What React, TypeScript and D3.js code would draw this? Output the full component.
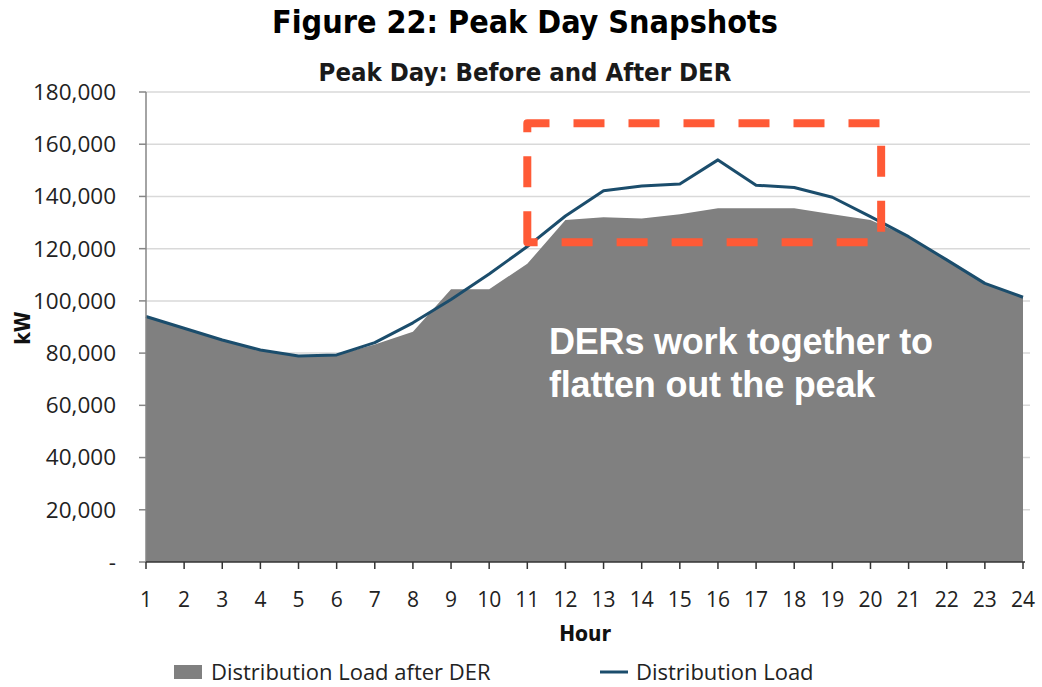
import React from "react";
import * as d3 from "d3";

const hours = [1, 2, 3, 4, 5, 6, 7, 8, 9, 10, 11, 12, 13, 14, 15, 16, 17, 18, 19, 20, 21, 22, 23, 24];
const distributionLoad = [94000, 89500, 85000, 81200, 78900, 79300, 84000, 91600, 100500, 110300, 120800, 132500, 142200, 144000, 144800, 154000, 144300, 143400, 139700, 132300, 124600, 115700, 106700, 101400];
const loadAfterDER = [94000, 89500, 85000, 81200, 78900, 79300, 83300, 88200, 104500, 104500, 114200, 131000, 132000, 131600, 133200, 135500, 135500, 135500, 133200, 131000, 124600, 115700, 106700, 101400];
const yTicks = [0, 20000, 40000, 60000, 80000, 100000, 120000, 140000, 160000, 180000];
const yTickLabels = ["-", "20,000", "40,000", "60,000", "80,000", "100,000", "120,000", "140,000", "160,000", "180,000"];
const highlightBox = { hourFrom: 11, hourTo: 20.28, kwLow: 122500, kwHigh: 168000 };
const annotationLines = ["DERs work together to", "flatten out the peak"];
const legendLabels = ["Distribution Load after DER", "Distribution Load"];

const W = 1042;
const H = 687;
const left = 146;
const right = 1023;
const top = 92;
const bottom = 562;

export default function App() {
  const x = d3.scaleLinear().domain([1, 24]).range([left, right]);
  const y = d3.scaleLinear().domain([0, 180000]).range([bottom, top]);

  const area = d3
    .area<number>()
    .x((_, i) => x(hours[i]))
    .y0(y(0))
    .y1((d) => y(d))(loadAfterDER) as string;
  const line = d3
    .line<number>()
    .x((_, i) => x(hours[i]))
    .y((d) => y(d))(distributionLoad) as string;

  const bx0 = x(highlightBox.hourFrom);
  const bx1 = x(highlightBox.hourTo);
  const by0 = y(highlightBox.kwHigh);
  const by1 = y(highlightBox.kwLow);
  const boxPath = `M${bx0},${by1}V${by0}H${bx1}V${by1}Z`;

  const tickFont = "'Open Sans', 'DejaVu Sans', sans-serif";
  const tahoma = "'DejaVu Sans Condensed', 'DejaVu Sans', sans-serif";

  return (
    <svg width={W} height={H} style={{ position: "absolute", left: 0, top: 0, background: "#fff" }}>
      <rect width={W} height={H} fill="#fff" />
      <text x={525} y={33} textAnchor="middle" fontFamily={tahoma} fontWeight="bold" fontSize={32} fill="#000">
        Figure 22: Peak Day Snapshots
      </text>
      <text x={525} y={81} textAnchor="middle" fontFamily={tahoma} fontWeight="bold" fontSize={25.5} fill="#1a1a1a">
        Peak Day: Before and After DER
      </text>

      {yTicks.slice(1).map((t) => (
        <line key={"g" + t} x1={left} x2={1030} y1={y(t)} y2={y(t)} stroke="#d9d9d9" strokeWidth={1.5} />
      ))}

      <path d={area} fill="#808080" />
      <path d={line} fill="none" stroke="#1b4d6c" strokeWidth={3} strokeLinejoin="round" />

      <line x1={left} x2={left} y1={top} y2={bottom} stroke="#868686" strokeWidth={1.5} />
      {yTicks.map((t, i) => (
        <g key={"yt" + t}>
          <line x1={left - 7} x2={left} y1={y(t)} y2={y(t)} stroke="#868686" strokeWidth={1.5} />
          <text x={116} y={y(t)} dy="0.35em" textAnchor="end" fontFamily={tickFont} fontSize={22.5} fill="#222">
            {yTickLabels[i]}
          </text>
        </g>
      ))}

      <line x1={left} x2={right + 2} y1={bottom} y2={bottom} stroke="#333" strokeWidth={1.5} />
      {hours.map((h) => (
        <g key={"xt" + h}>
          <line x1={x(h)} x2={x(h)} y1={bottom} y2={bottom + 7} stroke="#333" strokeWidth={1.5} />
          <text x={x(h)} y={607} textAnchor="middle" fontFamily={tickFont} fontSize={21} fill="#222">
            {h}
          </text>
        </g>
      ))}

      <text x={585} y={641} textAnchor="middle" fontFamily={tahoma} fontWeight="bold" fontSize={21} fill="#111">
        Hour
      </text>
      <text
        transform={`translate(30,328) rotate(-90)`}
        textAnchor="middle"
        fontFamily={tahoma}
        fontWeight="bold"
        fontSize={21}
        fill="#111"
      >
        kW
      </text>

      <path
        d={boxPath}
        fill="none"
        stroke="#ff5a36"
        strokeWidth={8}
        strokeDasharray="31,24"
        strokeLinejoin="round"
      />

      {annotationLines.map((l, i) => (
        <text
          key={l}
          x={549}
          y={354 + i * 43}
          fontFamily="'Liberation Sans', Arial, sans-serif"
          fontWeight="bold"
          fontSize={36}
          letterSpacing={-0.2}
          fill="#fff"
        >
          {l}
        </text>
      ))}

      <rect x={174} y={665} width={28} height={14} fill="#808080" />
      <text x={211} y={680} fontFamily={tickFont} fontSize={22} fill="#222">
        {legendLabels[0]}
      </text>
      <line x1={600} x2={628} y1={672} y2={672} stroke="#1b4d6c" strokeWidth={3} />
      <text x={636} y={680} fontFamily={tickFont} fontSize={22} fill="#222">
        {legendLabels[1]}
      </text>
    </svg>
  );
}
